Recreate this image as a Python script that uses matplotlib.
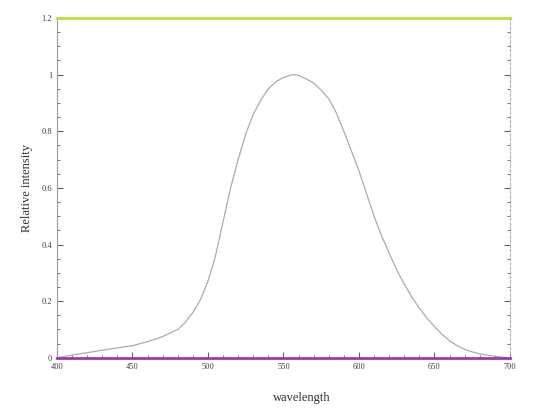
import matplotlib
matplotlib.use("Agg")
import matplotlib.pyplot as plt
from matplotlib.ticker import MultipleLocator

# values
wavelength = [400, 410, 420, 430, 440, 450, 460, 470, 480, 485, 490, 495, 500,
              505, 510, 515, 520, 525, 530, 535, 540, 545, 550, 556, 560, 565,
              570, 575, 580, 585, 590, 595, 600, 605, 610, 615, 620, 625, 630,
              635, 640, 645, 650, 655, 660, 665, 670, 675, 680, 690, 700]
intensity = [0.0, 0.01, 0.018, 0.027, 0.035, 0.043, 0.057, 0.075, 0.10, 0.125,
             0.16, 0.205, 0.27, 0.36, 0.48, 0.60, 0.70, 0.79, 0.86, 0.91, 0.95,
             0.975, 0.99, 1.0, 0.997, 0.985, 0.97, 0.945, 0.915, 0.865, 0.80,
             0.73, 0.66, 0.58, 0.50, 0.43, 0.37, 0.31, 0.26, 0.215, 0.175, 0.14,
             0.11, 0.083, 0.06, 0.043, 0.03, 0.021, 0.014, 0.005, 0.0]
x_ticks = [400, 450, 500, 550, 600, 650, 700]
y_ticks = [0, 0.2, 0.4, 0.6, 0.8, 1, 1.2]
y_tick_labels = ["0", "0.2", "0.4", "0.6", "0.8", "1", "1.2"]

plt.rcParams["font.family"] = ["Liberation Serif", "DejaVu Serif"]

fig = plt.figure(figsize=(5.58, 4.08), dpi=100)
ax = fig.add_axes([0.102, 0.123, 0.812, 0.833])

ax.plot(wavelength, intensity, color="#ababab", lw=0.9)

ax.set_xlim(400, 700)
ax.set_ylim(0, 1.2)
ax.set_xticks(x_ticks)
ax.set_yticks(y_ticks)
ax.set_yticklabels(y_tick_labels)
ax.xaxis.set_minor_locator(MultipleLocator(10))
ax.yaxis.set_minor_locator(MultipleLocator(0.05))
ax.tick_params(which="both", direction="in", top=False, right=True,
               colors="#606060", labelcolor="#404040", labelsize=6)
ax.tick_params(which="major", length=4)
ax.tick_params(which="minor", length=2)

ax.spines["top"].set_color("#b8e23a")
ax.spines["top"].set_linewidth(2.0)
ax.spines["bottom"].set_color("#9a3aa8")
ax.spines["bottom"].set_linewidth(2.0)
ax.spines["left"].set_color("#9a9a9a")
ax.spines["right"].set_color("#b0b0b0")
ax.spines["right"].set_linestyle((0, (2, 2)))

ax.set_xlabel("wavelength", fontsize=9, color="#303030")
ax.xaxis.set_label_coords(0.54, -0.1)
ax.set_ylabel("Relative intensity", fontsize=9, color="#303030", labelpad=6)

fig.savefig("out.png", dpi=100, facecolor="white")
